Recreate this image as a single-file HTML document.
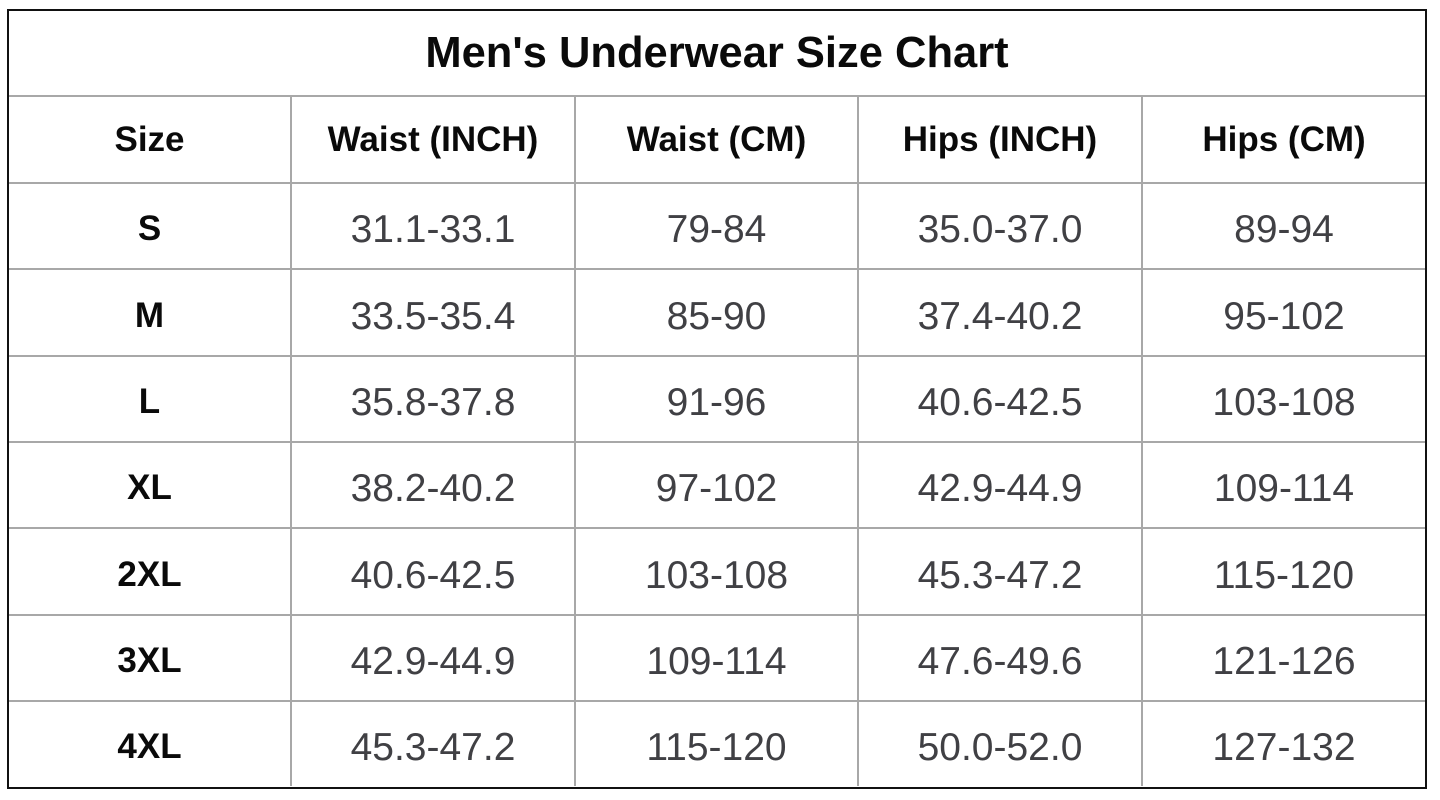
<!DOCTYPE html>
<html><head><meta charset="utf-8"><style>
html,body{margin:0;padding:0;background:#fff;width:1440px;height:800px;overflow:hidden;}
.box{position:absolute;left:7px;top:9px;width:1416px;height:776px;border:2px solid #111;}
.h{position:absolute;height:2px;background:#a8a8a8;}
.v{position:absolute;width:2px;background:#a8a8a8;}
.c{position:absolute;display:flex;align-items:center;justify-content:center;white-space:nowrap;}
.t{font-family:"Liberation Sans",Arial,sans-serif;font-weight:bold;font-size:43.5px;color:#0a0a0a;}
.hd{font-family:"Liberation Sans",Arial,sans-serif;font-weight:bold;font-size:35px;color:#0a0a0a;}
.s{padding-top:3px;}
.d{font-family:"Liberation Sans",Arial,sans-serif;font-size:39px;color:#404044;padding-top:4px;}
</style></head><body>
<div class="box"></div>
<div class="h" style="left:9px;width:1416px;top:95px"></div>
<div class="h" style="left:9px;width:1416px;top:182px"></div>
<div class="h" style="left:9px;width:1416px;top:268px"></div>
<div class="h" style="left:9px;width:1416px;top:355px"></div>
<div class="h" style="left:9px;width:1416px;top:441px"></div>
<div class="h" style="left:9px;width:1416px;top:527px"></div>
<div class="h" style="left:9px;width:1416px;top:614px"></div>
<div class="h" style="left:9px;width:1416px;top:700px"></div>
<div class="v" style="top:96px;height:690px;left:290px"></div>
<div class="v" style="top:96px;height:690px;left:574px"></div>
<div class="v" style="top:96px;height:690px;left:857px"></div>
<div class="v" style="top:96px;height:690px;left:1141px"></div>

<div class="c t" style="left:9px;width:1416px;top:11px;height:84px">Men's Underwear Size Chart</div>

<div class="c hd" style="left:9px;width:281px;top:97px;height:85px">Size</div>
<div class="c hd" style="left:292px;width:282px;top:97px;height:85px">Waist (INCH)</div>
<div class="c hd" style="left:576px;width:281px;top:97px;height:85px">Waist (CM)</div>
<div class="c hd" style="left:859px;width:282px;top:97px;height:85px">Hips (INCH)</div>
<div class="c hd" style="left:1143px;width:282px;top:97px;height:85px">Hips (CM)</div>

<!-- S -->
<div class="c hd s" style="left:9px;width:281px;top:184px;height:84px">S</div>
<div class="c d" style="left:292px;width:282px;top:184px;height:84px">31.1-33.1</div>
<div class="c d" style="left:576px;width:281px;top:184px;height:84px">79-84</div>
<div class="c d" style="left:859px;width:282px;top:184px;height:84px">35.0-37.0</div>
<div class="c d" style="left:1143px;width:282px;top:184px;height:84px">89-94</div>
<!-- M -->
<div class="c hd s" style="left:9px;width:281px;top:270px;height:85px">M</div>
<div class="c d" style="left:292px;width:282px;top:270px;height:85px">33.5-35.4</div>
<div class="c d" style="left:576px;width:281px;top:270px;height:85px">85-90</div>
<div class="c d" style="left:859px;width:282px;top:270px;height:85px">37.4-40.2</div>
<div class="c d" style="left:1143px;width:282px;top:270px;height:85px">95-102</div>
<!-- L -->
<div class="c hd s" style="left:9px;width:281px;top:357px;height:84px">L</div>
<div class="c d" style="left:292px;width:282px;top:357px;height:84px">35.8-37.8</div>
<div class="c d" style="left:576px;width:281px;top:357px;height:84px">91-96</div>
<div class="c d" style="left:859px;width:282px;top:357px;height:84px">40.6-42.5</div>
<div class="c d" style="left:1143px;width:282px;top:357px;height:84px">103-108</div>
<!-- XL -->
<div class="c hd s" style="left:9px;width:281px;top:443px;height:84px">XL</div>
<div class="c d" style="left:292px;width:282px;top:443px;height:84px">38.2-40.2</div>
<div class="c d" style="left:576px;width:281px;top:443px;height:84px">97-102</div>
<div class="c d" style="left:859px;width:282px;top:443px;height:84px">42.9-44.9</div>
<div class="c d" style="left:1143px;width:282px;top:443px;height:84px">109-114</div>
<!-- 2XL -->
<div class="c hd s" style="left:9px;width:281px;top:529px;height:85px">2XL</div>
<div class="c d" style="left:292px;width:282px;top:529px;height:85px">40.6-42.5</div>
<div class="c d" style="left:576px;width:281px;top:529px;height:85px">103-108</div>
<div class="c d" style="left:859px;width:282px;top:529px;height:85px">45.3-47.2</div>
<div class="c d" style="left:1143px;width:282px;top:529px;height:85px">115-120</div>
<!-- 3XL -->
<div class="c hd s" style="left:9px;width:281px;top:616px;height:84px">3XL</div>
<div class="c d" style="left:292px;width:282px;top:616px;height:84px">42.9-44.9</div>
<div class="c d" style="left:576px;width:281px;top:616px;height:84px">109-114</div>
<div class="c d" style="left:859px;width:282px;top:616px;height:84px">47.6-49.6</div>
<div class="c d" style="left:1143px;width:282px;top:616px;height:84px">121-126</div>
<!-- 4XL -->
<div class="c hd s" style="left:9px;width:281px;top:702px;height:84px">4XL</div>
<div class="c d" style="left:292px;width:282px;top:702px;height:84px">45.3-47.2</div>
<div class="c d" style="left:576px;width:281px;top:702px;height:84px">115-120</div>
<div class="c d" style="left:859px;width:282px;top:702px;height:84px">50.0-52.0</div>
<div class="c d" style="left:1143px;width:282px;top:702px;height:84px">127-132</div>
</body></html>
